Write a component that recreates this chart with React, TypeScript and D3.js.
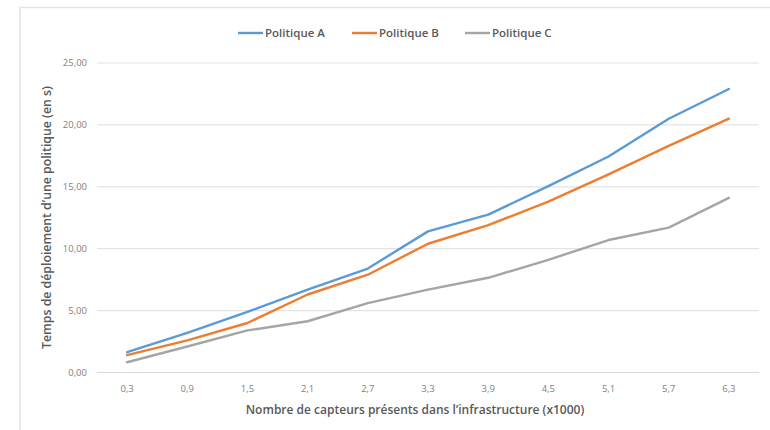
import React from "react";
import * as d3 from "d3";

const categories = ["0,3", "0,9", "1,5", "2,1", "2,7", "3,3", "3,9", "4,5", "5,1", "5,7", "6,3"];
const politiqueA = [1.64, 3.2, 4.9, 6.7, 8.4, 11.4, 12.75, 15.05, 17.45, 20.5, 22.9];
const politiqueB = [1.4, 2.6, 4.0, 6.3, 7.9, 10.4, 11.9, 13.8, 16.0, 18.3, 20.5];
const politiqueC = [0.83, 2.1, 3.4, 4.14, 5.6, 6.7, 7.65, 9.1, 10.7, 11.7, 14.1];
const yTicks = [0, 5, 10, 15, 20, 25];
const seriesNames = ["Politique A", "Politique B", "Politique C"];
const seriesColors = ["#5b9bd5", "#ed7d31", "#a5a5a5"];

const W = 770, H = 430;
const plot = { left: 97, right: 759, top: 63, bottom: 372.5 };
const font = "'Open Sans', 'Liberation Sans', sans-serif";

export default function App() {
  const x = d3.scaleBand<string>().domain(categories).range([plot.left, plot.right]).padding(0);
  const y = d3.scaleLinear().domain([0, 25]).range([plot.bottom, plot.top]);
  const line = d3.line<number>()
    .x((_, i) => (x(categories[i]) as number) + x.bandwidth() / 2)
    .y((d) => y(d));
  const all = [politiqueA, politiqueB, politiqueC];
  const fmt = (v: number) => v.toFixed(2).replace(".", ",");

  const legendX = [238, 352, 465];

  return (
    <svg width={W} height={H} style={{ position: "absolute", left: 0, top: 0, background: "#fff" }}>
      <rect x={20} y={7.5} width={W} height={H} fill="#fff" stroke="#e4e4e4" strokeWidth={1.5} />
      {yTicks.map((t) => (
        <g key={t}>
          <line x1={plot.left} x2={plot.right} y1={y(t)} y2={y(t)} stroke={t === 0 ? "#d9d9d9" : "#e3e3e3"} strokeWidth={1.2} />
          <text x={87} y={y(t)} dy="0.35em" textAnchor="end" fontFamily={font} fontSize={9.5} fill="#7f7f7f">
            {fmt(t)}
          </text>
        </g>
      ))}
      {categories.map((c) => (
        <text key={c} x={(x(c) as number) + x.bandwidth() / 2} y={388.5} dy="0.35em" textAnchor="middle" fontFamily={font} fontSize={9.5} fill="#7f7f7f">
          {c}
        </text>
      ))}
      {all.map((s, i) => (
        <path key={i} d={line(s) || ""} fill="none" stroke={seriesColors[i]} strokeWidth={2.4} strokeLinejoin="round" strokeLinecap="round" />
      ))}
      {seriesNames.map((n, i) => (
        <g key={n}>
          <line x1={legendX[i]} x2={legendX[i] + 25} y1={33} y2={33} stroke={seriesColors[i]} strokeWidth={2.4} />
          <text x={legendX[i] + 27} y={33} dy="0.35em" fontFamily={font} fontSize={11.5} fontWeight={600} fill="#595959">
            {n}
          </text>
        </g>
      ))}
      <text x={415} y={409.5} dy="0.35em" textAnchor="middle" fontFamily={font} fontSize={12} fontWeight={600} fill="#595959">
        Nombre de capteurs présents dans l’infrastructure (x1000)
      </text>
      <text transform={`translate(47,217.5) rotate(-90)`} dy="0.35em" textAnchor="middle" fontFamily={font} fontSize={12.3} fontWeight={600} fill="#595959">
        Temps de déploiement d’une politique (en s)
      </text>
    </svg>
  );
}
